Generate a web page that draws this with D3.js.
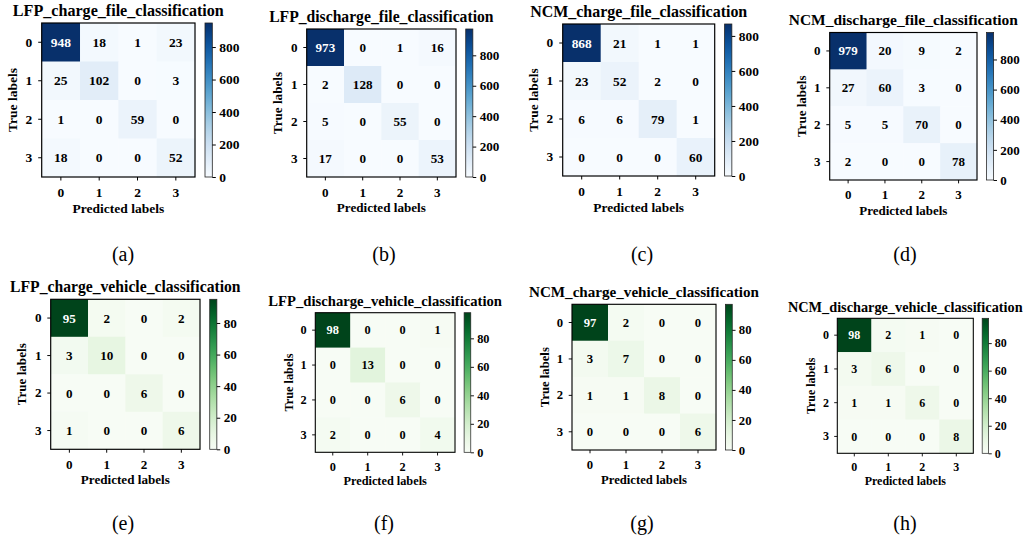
<!DOCTYPE html>
<html>
<head>
<meta charset="utf-8">
<script src="https://cdn.jsdelivr.net/npm/d3@7"></script>
<style>
body { margin: 0; background: #fff; }
svg { display: block; }
svg text { font-family: "Liberation Serif", "Times New Roman", serif; }
</style>
</head>
<body>
<svg id="chart" width="1024" height="540"></svg>
<script>
const classLabels = ["0", "1", "2", "3"];

const lfpChargeFile = [[948, 18, 1, 23], [25, 102, 0, 3], [1, 0, 59, 0], [18, 0, 0, 52]];
const lfpDischargeFile = [[973, 0, 1, 16], [2, 128, 0, 0], [5, 0, 55, 0], [17, 0, 0, 53]];
const ncmChargeFile = [[868, 21, 1, 1], [23, 52, 2, 0], [6, 6, 79, 1], [0, 0, 0, 60]];
const ncmDischargeFile = [[979, 20, 9, 2], [27, 60, 3, 0], [5, 5, 70, 0], [2, 0, 0, 78]];
const lfpChargeVehicle = [[95, 2, 0, 2], [3, 10, 0, 0], [0, 0, 6, 0], [1, 0, 0, 6]];
const lfpDischargeVehicle = [[98, 0, 0, 1], [0, 13, 0, 0], [0, 0, 6, 0], [2, 0, 0, 4]];
const ncmChargeVehicle = [[97, 2, 0, 0], [3, 7, 0, 0], [1, 1, 8, 0], [0, 0, 0, 6]];
const ncmDischargeVehicle = [[98, 2, 1, 0], [3, 6, 0, 0], [1, 1, 6, 0], [0, 0, 0, 8]];

const panelTitles = [
    "LFP_charge_file_classification",
    "LFP_discharge_file_classification",
    "NCM_charge_file_classification",
    "NCM_discharge_file_classification",
    "LFP_charge_vehicle_classification",
    "LFP_discharge_vehicle_classification",
    "NCM_charge_vehicle_classification",
    "NCM_discharge_vehicle_classification"
];
const panelCaptions = ["(a)", "(b)", "(c)", "(d)", "(e)", "(f)", "(g)", "(h)"];
const fileTicks = [0, 200, 400, 600, 800];
const vehicleTicks = [0, 20, 40, 60, 80];

// heatmap boxes (pixels), one per panel
const panelBoxes = [
    { x0: 41.7, x1: 195, y0: 23, y1: 177 },
    { x0: 306.7, x1: 456, y0: 29, y1: 177 },
    { x0: 562.7, x1: 714.7, y0: 24, y1: 176 },
    { x0: 829.7, x1: 977, y0: 32.5, y1: 180 },
    { x0: 50.7, x1: 200, y0: 299.3, y1: 449.3 },
    { x0: 315.3, x1: 455, y0: 312.7, y1: 452.3 },
    { x0: 572, x1: 716, y0: 304.3, y1: 450 },
    { x0: 837.3, x1: 973.3, y0: 318.3, y1: 453.3 }
];
const captionX = [123, 384, 642, 905];
const captionY = [261, 530];

const serif = "Liberation Serif, Times New Roman, serif";

const matrices = [lfpChargeFile, lfpDischargeFile, ncmChargeFile, ncmDischargeFile,
    lfpChargeVehicle, lfpDischargeVehicle, ncmChargeVehicle, ncmDischargeVehicle];

const svg = d3.select("#chart");
const defs = svg.append("defs");

matrices.forEach((matrix, i) => {
    const isFile = i < 4;
    drawPanel(i, matrix, panelTitles[i], panelBoxes[i],
        isFile ? d3.interpolateBlues : d3.interpolateGreens,
        isFile ? fileTicks : vehicleTicks);

    svg.append("text")
        .attr("x", captionX[i % 4])
        .attr("y", captionY[Math.floor(i / 4)])
        .attr("text-anchor", "middle")
        .attr("font-family", serif)
        .attr("font-size", 20)
        .attr("fill", "#000")
        .text(panelCaptions[i]);
});

function drawPanel(idx, matrix, title, box, interp, cbTicks) {
    const s = (box.x1 - box.x0) / 153.3;
    const fs = 13.5 * s;

    const xScale = d3.scaleBand().domain(classLabels).range([box.x0, box.x1]);
    const yScale = d3.scaleBand().domain(classLabels).range([box.y0, box.y1]);
    const maxV = d3.max(matrix.flat());
    const color = d3.scaleSequential(interp).domain([0, maxV]);

    const cells = [];
    matrix.forEach((row, r) => row.forEach((v, c) => {
        cells.push({ row: classLabels[r], col: classLabels[c], v: v });
    }));

    const g = svg.append("g").attr("font-family", serif);

    g.selectAll("rect.cell")
        .data(cells)
        .enter()
        .append("rect")
        .attr("class", "cell")
        .attr("x", d => xScale(d.col))
        .attr("y", d => yScale(d.row))
        .attr("width", xScale.bandwidth() + 0.5)
        .attr("height", yScale.bandwidth() + 0.5)
        .attr("fill", d => color(d.v));

    g.selectAll("text.val")
        .data(cells)
        .enter()
        .append("text")
        .attr("class", "val")
        .attr("x", d => xScale(d.col) + xScale.bandwidth() / 2)
        .attr("y", d => yScale(d.row) + yScale.bandwidth() / 2)
        .attr("dy", "0.35em")
        .attr("text-anchor", "middle")
        .attr("font-family", serif)
        .attr("font-size", fs)
        .attr("font-weight", "bold")
        .attr("fill", d => d.v > maxV / 2 ? "#fff" : "#000")
        .text(d => d.v);

    g.append("rect")
        .attr("x", box.x0)
        .attr("y", box.y0)
        .attr("width", box.x1 - box.x0)
        .attr("height", box.y1 - box.y0)
        .attr("fill", "none")
        .attr("stroke", "#000")
        .attr("stroke-width", 1.2 * s);

    const xAxis = g.append("g")
        .attr("transform", `translate(0,${box.y1})`)
        .call(d3.axisBottom(xScale).tickSize(3.5 * s).tickPadding(7 * s));
    const yAxis = g.append("g")
        .attr("transform", `translate(${box.x0},0)`)
        .call(d3.axisLeft(yScale).tickSize(3.5 * s).tickPadding(6 * s));
    [xAxis, yAxis].forEach(ax => {
        ax.attr("font-family", serif).attr("font-size", fs).attr("font-weight", "bold");
        ax.select(".domain").remove();
        ax.selectAll("line").attr("stroke", "#000").attr("stroke-width", s);
        ax.selectAll("text").attr("fill", "#000").attr("font-family", serif);
    });

    g.append("text")
        .attr("x", (box.x0 + box.x1) / 2)
        .attr("y", box.y0 - 7.5 * s)
        .attr("text-anchor", "middle")
        .attr("font-size", 16.1 * s)
        .attr("font-weight", "bold")
        .text(title);

    g.append("text")
        .attr("x", (box.x0 + box.x1) / 2)
        .attr("y", box.y1 + 36 * s)
        .attr("text-anchor", "middle")
        .attr("font-size", fs)
        .attr("font-weight", "bold")
        .text("Predicted labels");

    g.append("text")
        .attr("transform", `translate(${box.x0 - 25 * s},${(box.y0 + box.y1) / 2}) rotate(-90)`)
        .attr("text-anchor", "middle")
        .attr("font-size", fs)
        .attr("font-weight", "bold")
        .text("True labels");

    // colorbar
    const cbX = box.x1 + 10 * s;
    const cbW = 7.3 * s;
    const gradId = "cb-grad-" + idx;
    const grad = defs.append("linearGradient")
        .attr("id", gradId)
        .attr("x1", 0).attr("y1", 1).attr("x2", 0).attr("y2", 0);
    d3.range(0, 1.0001, 0.05).forEach(t => {
        grad.append("stop").attr("offset", t).attr("stop-color", interp(t));
    });

    g.append("rect")
        .attr("x", cbX)
        .attr("y", box.y0)
        .attr("width", cbW)
        .attr("height", box.y1 - box.y0)
        .attr("fill", `url(#${gradId})`)
        .attr("stroke", "#222")
        .attr("stroke-width", 0.8 * s);

    const cbScale = d3.scaleLinear().domain([0, maxV]).range([box.y1, box.y0]);
    const cbAxis = g.append("g")
        .attr("transform", `translate(${cbX + cbW},0)`)
        .call(d3.axisRight(cbScale).tickValues(cbTicks).tickSize(3.5 * s).tickPadding(3.5 * s));
    cbAxis.attr("font-family", serif).attr("font-size", fs).attr("font-weight", "bold");
    cbAxis.select(".domain").remove();
    cbAxis.selectAll("line").attr("stroke", "#000").attr("stroke-width", s);
    cbAxis.selectAll("text").attr("fill", "#000").attr("font-family", serif);
}
</script>
</body>
</html>
